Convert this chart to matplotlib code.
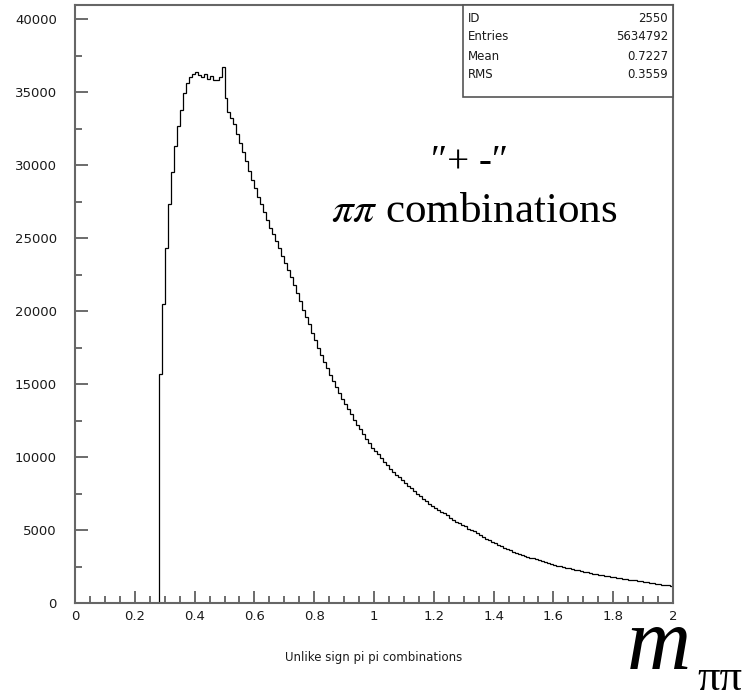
import numpy as np
import matplotlib
matplotlib.use("Agg")
import matplotlib.pyplot as plt
from matplotlib.patches import Rectangle

# ---- data: histogram, bins of width 0.01 on [0, 2] ----
bin_lo = 0.0
bin_hi = 2.0
n_bins = 200
# zero counts for bins below threshold (0.00 .. 0.27)
n_zero = 28
# counts for bins starting at 0.28, 0.29, ... 1.99
counts = [
    15700, 20500, 24300, 27300, 29500, 31300, 32700, 33800, 34900, 35600,   # 0.28-0.37
    36000, 36200,                                                           # 0.38-0.39
    36350, 36150, 36050, 36200, 35900, 36100, 35800, 35850, 36000, 36700,   # 0.40-0.49
    34600, 33600, 33200, 32800, 32100, 31500, 30900, 30300, 29600, 29000,   # 0.50-0.59
    28400, 27800, 27300, 26800, 26200, 25700, 25300, 24800, 24300, 23800,   # 0.60-0.69
    23300, 22800, 22300, 21800, 21200, 20700, 20100, 19600, 19100, 18500,   # 0.70-0.79
    18000, 17500, 17000, 16500, 16100, 15600, 15200, 14800, 14400, 14000,   # 0.80-0.89
    13600, 13300, 12950, 12550, 12200, 11900, 11550, 11250, 10950, 10650,   # 0.90-0.99
    10400, 10200, 9900, 9650, 9450, 9200, 9000, 8800, 8600, 8400,           # 1.00-1.09
    8200, 8000, 7850, 7700, 7500, 7300, 7150, 7000, 6800, 6650,             # 1.10-1.19
    6500, 6350, 6250, 6150, 6000, 5850, 5700, 5550, 5450, 5350,             # 1.20-1.29
    5250, 5100, 5000, 4900, 4800, 4650, 4500, 4400, 4300, 4200,             # 1.30-1.39
    4100, 4000, 3900, 3800, 3700, 3600, 3520, 3450, 3380, 3300,             # 1.40-1.49
    3230, 3170, 3100, 3050, 2980, 2920, 2850, 2780, 2720, 2660,             # 1.50-1.59
    2610, 2560, 2520, 2480, 2430, 2390, 2340, 2290, 2240, 2180,             # 1.60-1.69
    2140, 2100, 2060, 2020, 1980, 1940, 1900, 1870, 1830, 1790,             # 1.70-1.79
    1760, 1730, 1700, 1670, 1640, 1600, 1580, 1550, 1520, 1490,             # 1.80-1.89
    1450, 1420, 1390, 1360, 1320, 1290, 1250, 1220, 1200, 1180,             # 1.90-1.99
]

stat_names = ["ID", "Entries", "Mean", "RMS"]
stat_values = ["2550", "5634792", "0.7227", "0.3559"]

x_ticks = [0, 0.2, 0.4, 0.6, 0.8, 1.0, 1.2, 1.4, 1.6, 1.8, 2.0]
x_tick_labels = ["0", "0.2", "0.4", "0.6", "0.8", "1", "1.2", "1.4", "1.6", "1.8", "2"]
y_ticks = [0, 5000, 10000, 15000, 20000, 25000, 30000, 35000, 40000]

xlabel_text = "Unlike sign pi pi combinations"

values = np.concatenate([np.zeros(n_zero), np.array(counts, dtype=float)])
edges = np.linspace(bin_lo, bin_hi, n_bins + 1)

W, H = 742, 698
fig = plt.figure(figsize=(W / 100, H / 100), dpi=100)
fig.patch.set_facecolor("white")

L, R, T, B = 75, 673, 5, 603
ax = fig.add_axes([L / W, 1 - B / H, (R - L) / W, (B - T) / H])

ax.stairs(values, edges, color="black", linewidth=0.9)

ax.set_xlim(0, 2)
ax.set_ylim(0, 40960)

ax.set_xticks(x_ticks)
ax.set_xticklabels(x_tick_labels)
ax.set_xticks(np.arange(0, 2.0001, 0.05), minor=True)
ax.set_yticks(y_ticks)
ax.set_yticklabels([str(v) for v in y_ticks])
ax.set_yticks(np.arange(0, 40001, 2500), minor=True)

tick_col = "#1a1a1a"
ax.tick_params(axis="both", which="major", direction="in", length=9,
               width=1.1, color="#444444", labelsize=9.5, labelcolor=tick_col)
ax.tick_params(axis="both", which="minor", direction="in", length=5,
               width=1.1, color="#444444")
ax.tick_params(axis="y", which="major", pad=13)
ax.tick_params(axis="x", which="major", pad=5)
for lab in ax.get_xticklabels() + ax.get_yticklabels():
    lab.set_fontfamily("DejaVu Sans")

for sp in ax.spines.values():
    sp.set_color("#666666")
    sp.set_linewidth(1.5)

# x label
fig.text(374 / W, 1 - 657 / H, xlabel_text, ha="center", va="center",
         fontsize=8.5, color="#1a1a1a")

# stats box
bx0, bx1, by0, by1 = 463, 673, 5, 97
fig.patches.append(Rectangle((bx0 / W, 1 - by1 / H), (bx1 - bx0) / W, (by1 - by0) / H,
                             transform=fig.transFigure, facecolor="white",
                             edgecolor="#555555", linewidth=1.2, zorder=5))
line_y = [18, 37, 56, 75]
for name, val, yy in zip(stat_names, stat_values, line_y):
    fig.text(468 / W, 1 - yy / H, name, ha="left", va="center",
             fontsize=8.5, color="#1a1a1a", zorder=6)
    fig.text(668 / W, 1 - yy / H, val, ha="right", va="center",
             fontsize=8.5, color="#1a1a1a", zorder=6)

# annotations
serif = ["Liberation Serif", "DejaVu Serif"]
plt.rcParams["mathtext.fontset"] = "stix"
fig.text(470 / W, 1 - 163 / H, "\u2033+ -\u2033", ha="center", va="center",
         fontsize=28, family=serif, color="black")
fig.text(474 / W, 1 - 212 / H, r"$\pi\pi$ combinations", ha="center", va="center",
         fontsize=31, family=serif, color="black")

# big axis label m_pipi
fig.text(627 / W, 1 - 669 / H, "m", ha="left", va="baseline",
         fontsize=64, family=serif, style="italic", color="black")
fig.text(697 / W, 1 - 690 / H, "\u03c0\u03c0", ha="left", va="baseline",
         fontsize=32, family=serif, color="black")

fig.savefig("out.png", dpi=100, facecolor="white")
